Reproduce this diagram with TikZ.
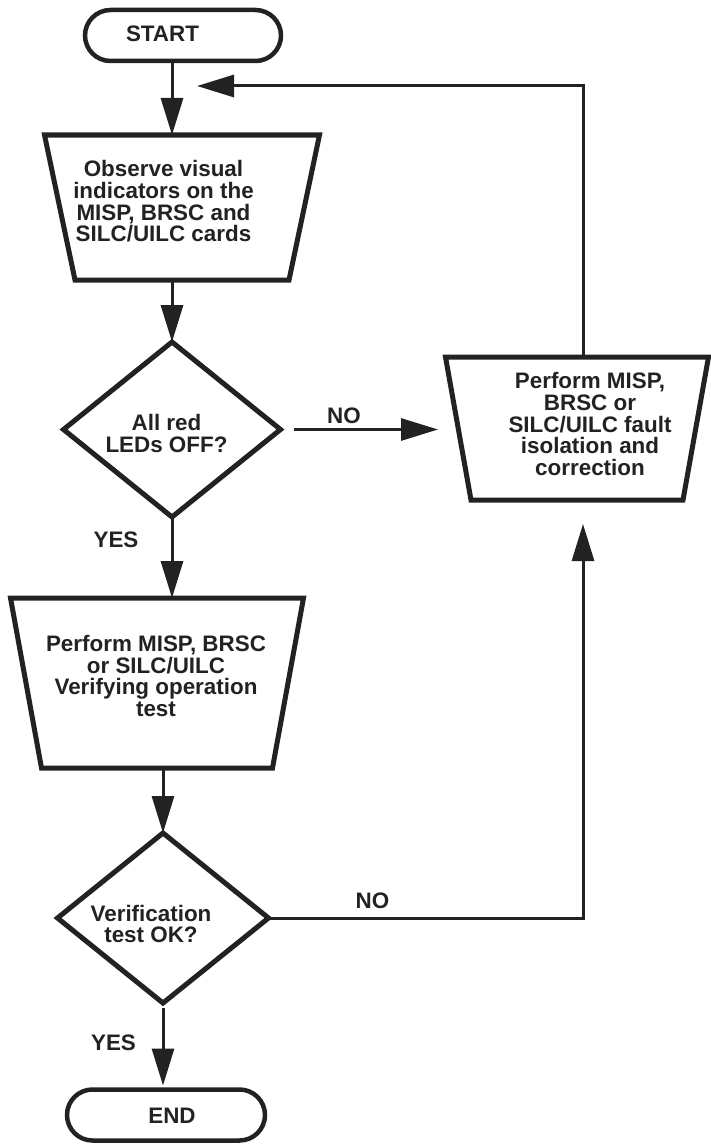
\documentclass[tikz,border=0pt]{standalone}
\usepackage{fontspec}
\setmainfont{Liberation Sans}
\usetikzlibrary{shapes.geometric,arrows.meta}
\definecolor{ink}{HTML}{222222}
\begin{document}
\begin{tikzpicture}[x=1pt,y=-1pt,
  every node/.style={inner sep=0pt, outer sep=0pt},
  txt/.style={align=center, text=ink, font=\fontsize{22.4}{21.7}\selectfont\bfseries},
  terminal/.style={draw=ink, line width=4.5pt, rectangle, rounded corners=25.5pt, minimum height=51pt},
  frame/.style={rectangle, draw=none},
  trapline/.style={draw=ink, line width=5pt, line join=miter},
  decision/.style={draw=ink, line width=5pt, diamond},
  arr/.style={draw=ink, line width=3pt, -{Triangle[length=37pt,width=22pt]}}]

  % page
  \fill[white] (0,0) rectangle (710,1145);
  \useasboundingbox (0,0) rectangle (710,1145);

  % terminals and decisions
  \node[terminal, minimum width=196pt] (start) at (183,35.5) {};
  \node[decision, minimum width=217pt, minimum height=175pt] (d1) at (172,429.5) {};
  \node[decision, minimum width=211pt, minimum height=170pt] (d2) at (163,918) {};
  \node[terminal, minimum width=198pt] (endt) at (166,1115) {};

  % process boxes: frames, then the trapezoid outlines (wide side on top)
  \node[frame, minimum width=275pt, minimum height=145pt] (box1) at (182,207.5) {};
  \node[frame, minimum width=263pt, minimum height=143pt] (box2) at (577,428.5) {};
  \node[frame, minimum width=293pt, minimum height=170pt] (box3) at (157,683) {};
  \draw[trapline] (box1.north west) -- (box1.north east) -- ([xshift=-30.5pt]box1.south east)
    -- ([xshift=30.5pt]box1.south west) -- cycle;
  \draw[trapline] (box2.north west) -- (box2.north east) -- ([xshift=-25.5pt]box2.south east)
    -- ([xshift=25.5pt]box2.south west) -- cycle;
  \draw[trapline] (box3.north west) -- (box3.north east) -- ([xshift=-31pt]box3.south east)
    -- ([xshift=31pt]box3.south west) -- cycle;

  % texts
  \node[txt] (tstart) at (162.5,34) {START};
  \node[txt] (t1) at (163.5,201.5) {Observe visual\\indicators on the\\MISP, BRSC and\\SILC/UILC cards};
  \node[txt] (t2) at (166.5,433.5) {All red\\LEDs OFF?};
  \node[txt] (t3) at (590,424) {Perform MISP,\\BRSC or\\SILC/UILC fault\\isolation and\\correction};
  \node[txt] (t4) at (156,676) {Perform MISP, BRSC\\or SILC/UILC\\Verifying operation\\test};
  \node[txt] (t5) at (151,924) {Verification\\test OK?};
  \node[txt] (tend) at (172,1116) {END};

  % branch labels
  \node[txt] (no1) at (344,415.5) {NO};
  \node[txt] (yes1) at (116,539.5) {YES};
  \node[txt] (no2) at (372.5,901) {NO};
  \node[txt] (yes2) at (113.5,1042.5) {YES};

  % loop-back route
  \coordinate (loop) at (583,86);
  \coordinate (back) at (197,86);

  % connectors
  \draw[arr] (start.south -| d1.north) -- (box1.north -| d1.north);
  \draw[arr] (box1.south -| d1.north) -- (d1.north);
  \draw[arr, shorten <=13pt, shorten >=7.5pt] (d1.east) -- (d1.east -| box2.west);
  \draw[arr] (d1.south) -- (box3.north -| d1.south);
  \draw[arr] (box3.south -| d2.north) -- (d2.north);
  \draw[arr, shorten >=24pt] (d2.east) -| (box2.south -| loop);
  \draw[arr, shorten <=5pt, shorten >=4pt] (d2.south) -- (endt.north -| d2.south);
  \draw[arr] (box2.north -| loop) -- (loop) -- (back);
\end{tikzpicture}
\end{document}
